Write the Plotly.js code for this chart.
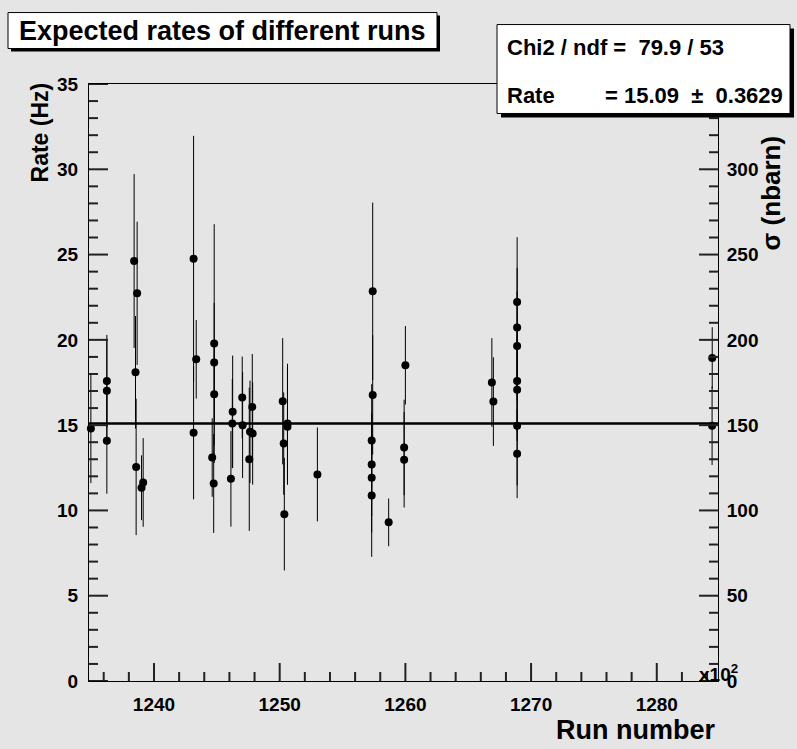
<!DOCTYPE html>
<html>
<head>
<meta charset="utf-8">
<script src="https://cdn.plot.ly/plotly-3.0.1.min.js"></script>
<style>html,body{margin:0;padding:0;background:#e5e5e5;}#chart{width:797px;height:749px;}</style>
</head>
<body>
<div id="chart"></div>
<script>
// ---- data ----
const runs = [1234.98, 1236.25, 1236.25, 1236.25, 1238.42, 1238.66, 1238.53, 1238.58, 1239.14, 1239.01,
  1243.15, 1243.15, 1243.36, 1244.79, 1244.79, 1244.79, 1244.63, 1244.75, 1246.26, 1246.23,
  1246.12, 1247.02, 1247.05, 1247.82, 1247.64, 1247.85, 1247.58, 1250.24, 1250.62, 1250.62,
  1250.32, 1250.37, 1253.0, 1257.40, 1257.40, 1257.32, 1257.32, 1257.32, 1257.32, 1258.67,
  1260.0, 1259.9, 1259.9, 1266.88, 1267.0, 1268.89, 1268.89, 1268.89, 1268.89, 1268.89,
  1268.89, 1268.89, 1284.41, 1284.40];
const rates = [14.80, 17.59, 17.01, 14.08, 24.62, 22.73, 18.10, 12.55, 11.64, 11.33,
  24.76, 14.55, 18.86, 19.78, 18.67, 16.81, 13.10, 11.58, 15.78, 15.10,
  11.85, 16.62, 15.00, 16.07, 14.61, 14.51, 13.00, 16.40, 14.90, 15.10,
  13.92, 9.78, 12.11, 22.85, 16.77, 14.10, 12.69, 11.91, 10.88, 9.30,
  18.51, 13.69, 12.97, 17.50, 16.38, 22.22, 20.72, 19.64, 17.59, 17.07,
  14.96, 13.32, 18.94, 14.96];
const rateErrors = [3.2, 2.7, 3.0, 3.1, 5.1, 4.2, 3.3, 4.0, 2.6, 1.9,
  7.2, 3.9, 2.3, 7.0, 3.5, 3.0, 2.3, 2.9, 3.3, 2.6,
  2.8, 2.4, 3.1, 3.1, 3.0, 3.0, 4.2, 3.7, 3.4, 3.5,
  3.0, 3.3, 2.75, 5.2, 3.5, 3.3, 3.0, 3.2, 3.6, 1.4,
  2.3, 2.8, 2.8, 2.6, 2.6, 3.8, 3.5, 3.2, 3.0, 3.0,
  3.5, 2.6, 1.8, 2.3];
const fitRate = 15.09;
const fitRateError = 0.3629;
const chi2 = 79.9;
const ndf = 53;
const xRange = [1234.83, 1284.87];
const yRange = [0, 35];
const sigmaRange = [0, 350];
const sigmaTicks = [0, 50, 100, 150, 200, 250, 300];
const titleText = "Expected rates of different runs";

// ---- layout helpers (pixel -> paper) ----
const W = 797, H = 749;
const L = 89, R = 718, T = 83.5, B = 681;
const px = x => (x - L) / (R - L);
const py = y => (B - y) / (B - T);

const FONT = "Liberation Sans, Arial, sans-serif";
const bold = (size) => ({family: FONT, size: size, color: "black", weight: "bold"});

// ---- ROOT-style inside tick marks, drawn as line traces on the axes' own scales ----
const xPerPx = (xRange[1] - xRange[0]) / (R - L);
const yPerPx = (yRange[1] - yRange[0]) / (B - T);
const near0 = v => Math.abs(v) < 1e-6;
const tkX = [], tkY = [];
for (let v = Math.ceil(xRange[0] / 2) * 2; v <= xRange[1]; v += 2) {
  const major = near0(v % 10);
  tkX.push(v, v, null);
  tkY.push(yRange[0], yRange[0] + (major ? 18 : 9) * yPerPx, null);
}
for (let v = yRange[0]; v <= yRange[1]; v += 1) {
  const major = near0(v % 5);
  tkX.push(xRange[0], xRange[0] + (major ? 19 : 9) * xPerPx, null);
  tkY.push(v, v, null);
}
const rkX = [], rkY = [];
for (let s = sigmaRange[0]; s <= sigmaRange[1]; s += 10) {
  const major = near0(s % 50);
  rkX.push(xRange[1] - (major ? 19 : 9) * xPerPx, xRange[1], null);
  rkY.push(s, s, null);
}

const traces = [
  {
    x: runs, y: rates, type: "scatter", mode: "markers",
    marker: {color: "black", size: 8},
    error_y: {type: "data", array: rateErrors, visible: true, color: "black", thickness: 1, width: 0},
    showlegend: false, hoverinfo: "x+y", cliponaxis: false
  },
  {
    x: xRange, y: [fitRate, fitRate], type: "scatter", mode: "lines",
    line: {color: "black", width: 2.5}, showlegend: false, hoverinfo: "skip"
  },
  {
    x: tkX, y: tkY, type: "scatter", mode: "lines", connectgaps: false,
    line: {color: "#222", width: 2}, showlegend: false, hoverinfo: "skip", cliponaxis: false
  },
  {
    x: rkX, y: rkY, yaxis: "y2", type: "scatter", mode: "lines", connectgaps: false,
    line: {color: "#222", width: 2}, showlegend: false, hoverinfo: "skip", cliponaxis: false
  }
];

const box = (x0, y0, x1, y1, fill) => ({
  type: "rect", xref: "paper", yref: "paper", layer: "above",
  x0: px(x0), x1: px(x1), y0: py(y1), y1: py(y0),
  line: {color: "black", width: fill === "white" ? 1 : 0}, fillcolor: fill
});

const layout = {
  width: W, height: H,
  margin: {l: L, r: W - R, t: T, b: H - B},
  paper_bgcolor: "#e5e5e5", plot_bgcolor: "#e5e5e5",
  showlegend: false,
  xaxis: {
    range: xRange, dtick: 10, tick0: 1240, ticks: "",
    showline: true, linecolor: "black", linewidth: 1, mirror: true, showgrid: false, zeroline: false,
    tickfont: bold(19), ticklabelstandoff: 6
  },
  yaxis: {
    range: yRange, dtick: 5, ticks: "",
    showline: true, linecolor: "black", linewidth: 1, showgrid: false, zeroline: false,
    tickfont: bold(19), ticklabelstandoff: 6
  },
  yaxis2: {
    range: sigmaRange, overlaying: "y", side: "right", tickvals: sigmaTicks, ticks: "",
    showline: true, linecolor: "black", linewidth: 1, showgrid: false, zeroline: false,
    tickfont: bold(19), ticklabelstandoff: 4
  },
  shapes: [
    box(11, 15, 440, 51, "black"),
    box(8, 12, 437, 48, "white"),
    box(501, 28, 794, 117, "black"),
    box(497, 24, 790, 113, "white")
  ],
  annotations: [
    {xref: "paper", yref: "paper", x: px(222), y: py(30), xanchor: "center", yanchor: "middle",
     text: titleText, showarrow: false, font: bold(27)},
    {xref: "paper", yref: "paper", x: px(505), y: py(47), xanchor: "left", yanchor: "middle",
     text: "Chi2 / ndf =\u00a0\u00a0" + chi2.toFixed(1) + " / " + ndf, showarrow: false, font: bold(22)},
    {xref: "paper", yref: "paper", x: px(505), y: py(95), xanchor: "left", yanchor: "middle",
     text: "Rate", showarrow: false, font: bold(22)},
    {xref: "paper", yref: "paper", x: px(785), y: py(95), xanchor: "right", yanchor: "middle",
     text: "=\u00a0" + fitRate.toFixed(2) + "\u00a0\u00a0\u00b1\u00a0\u00a0" + fitRateError.toFixed(4), showarrow: false, font: bold(22)},
    {xref: "paper", yref: "paper", x: px(40), y: py(132), xanchor: "center", yanchor: "middle",
     text: "Rate (Hz)", textangle: -90, showarrow: false, font: bold(23)},
    {xref: "paper", yref: "paper", x: px(771), y: py(193), xanchor: "center", yanchor: "middle",
     text: "\u03c3 (nbarn)", textangle: -90, showarrow: false, font: bold(26)},
    {xref: "paper", yref: "paper", x: px(717), y: py(730), xanchor: "right", yanchor: "middle",
     text: "Run number", showarrow: false, font: bold(27)},
    {xref: "paper", yref: "paper", x: px(718), y: py(673), xanchor: "center", yanchor: "middle",
     text: "x10<sup>2</sup>", showarrow: false, font: bold(19)}
  ]
};

Plotly.newPlot("chart", traces, layout, {displayModeBar: false});
</script>
</body>
</html>
